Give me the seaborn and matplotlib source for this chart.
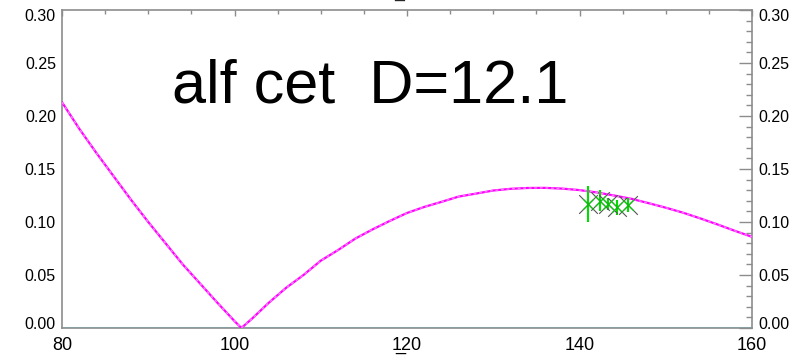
import matplotlib
matplotlib.use("Agg")
import matplotlib.pyplot as plt
import matplotlib.transforms as mtransforms
import seaborn as sns
import pandas as pd
from matplotlib.ticker import MultipleLocator

# Model curve
model_b = [80, 82, 84, 86, 88, 90, 92, 94, 96, 98, 100, 100.8, 102, 104, 106,
           108, 110, 112, 114, 116, 118, 120, 122, 124, 126, 128, 130, 132,
           134, 136, 138, 140, 142, 144, 146, 148, 150, 152, 154, 156, 158,
           160]
model_v = [0.213, 0.188, 0.165, 0.143, 0.121, 0.100, 0.080, 0.060, 0.042,
           0.024, 0.0065, 0.000, 0.0086, 0.024, 0.038, 0.050, 0.0635, 0.0735,
           0.0843, 0.093, 0.101, 0.1085, 0.1142, 0.119, 0.124, 0.1268,
           0.1297, 0.1313, 0.1321, 0.1322, 0.1315, 0.1301, 0.1279, 0.125,
           0.1219, 0.1178, 0.1135, 0.1088, 0.1034, 0.0977, 0.0917, 0.086]

# Measured points
obs_b = [141.0, 142.4, 143.3, 144.4, 145.6]
obs_v = [0.117, 0.120, 0.117, 0.114, 0.116]
obs_err = [0.017, 0.010, 0.006, 0.007, 0.007]

title_text = "alf cet  D=12.1"
top_mark = "\u00af"
xticks = [80, 100, 120, 140, 160]
xticklabels = ["80", "100", "1\u033220", "140", "160"]
yticks = [0.00, 0.05, 0.10, 0.15, 0.20, 0.25, 0.30]

sns.set_style("white")
plt.rcParams['font.family'] = ['Liberation Sans', 'DejaVu Sans']

W, H = 801, 357
PT = 72 / 100  # points per pixel
fig = plt.figure(figsize=(W / 100, H / 100), dpi=100)
ax = fig.add_axes([62 / W, (H - 328) / H, (752 - 62) / W, (328 - 10) / H])

df = pd.DataFrame({"b": model_b, "v": model_v})
sns.lineplot(data=df, x="b", y="v", ax=ax, color="#ff00ff", lw=1.6, zorder=3)
sns.lineplot(data=df, x="b", y="v", ax=ax, color="#ff80ff", lw=1.0,
             linestyle=(0, (2, 2)), zorder=4)

ax.axhline(0.0, color="#7fffff", lw=1.5, zorder=2)

ax.errorbar(obs_b, obs_v, yerr=obs_err, fmt="none", ecolor="#00dd00",
            elinewidth=1.5, capsize=0, zorder=5)
odf = pd.DataFrame({"b": obs_b, "v": obs_v})
sns.scatterplot(data=odf, x="b", y="v", ax=ax, marker="x", s=180,
                color="#555555", linewidth=0.8, zorder=6)
sns.scatterplot(data=odf, x="b", y="v", ax=ax, marker="x", s=60,
                color="#00cc00", linewidth=0.8, zorder=6)

ax.set_xlim(80, 160)
ax.set_ylim(0, 0.30)
ax.set_xlabel("")
ax.set_ylabel("")

ax.set_xticks(xticks)
ax.set_xticklabels(xticklabels)
ax.set_yticks(yticks)
ax.set_yticklabels([f"{t:.2f}" for t in yticks])
ax.xaxis.set_minor_locator(MultipleLocator(5))
ax.yaxis.set_minor_locator(MultipleLocator(0.01))

for s in ax.spines.values():
    s.set_color("#8c8c8c")
    s.set_linewidth(1.2)

ax.tick_params(axis="y", which="major", direction="in", length=13 * PT,
               width=1.0, color="#8c8c8c", labelsize=11.5,
               labelcolor="black", right=True, labelright=True, pad=6 * PT)
ax.tick_params(axis="y", which="minor", direction="in", length=6 * PT,
               width=1.0, color="#8c8c8c", right=True)
ax.tick_params(axis="x", which="major", direction="in", length=6 * PT,
               width=1.0, color="#8c8c8c", labelsize=13, labelcolor="black",
               top=True, pad=9 * PT)
ax.tick_params(axis="x", which="minor", direction="in", length=3.5 * PT,
               width=1.0, color="#8c8c8c", top=True)

# IDL-style: end labels nudged inward
yt = ax.yaxis.get_major_ticks()
down = mtransforms.ScaledTranslation(0, -5 / 100, fig.dpi_scale_trans)
up = mtransforms.ScaledTranslation(0, 5 / 100, fig.dpi_scale_trans)
for lab in (yt[-1].label1, yt[-1].label2):
    lab.set_transform(lab.get_transform() + down)
for lab in (yt[0].label1, yt[0].label2):
    lab.set_transform(lab.get_transform() + up)

ax.text((172 - 62) / 690, (328 - 103) / 318, title_text,
        transform=ax.transAxes, fontsize=44, color="black",
        ha="left", va="baseline")

fig.text(399 / W, 1 - 1 / H, top_mark, fontsize=13, ha="center", va="top")

fig.savefig("out.png", dpi=100)
